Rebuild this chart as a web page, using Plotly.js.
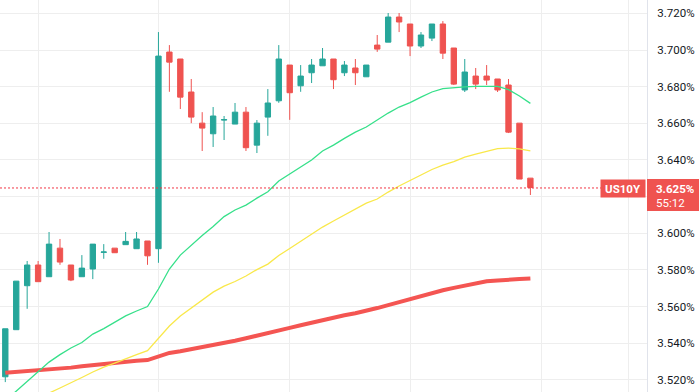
<!DOCTYPE html>
<html>
<head>
<meta charset="utf-8">
<script src="https://cdn.plot.ly/plotly-3.0.1.min.js"></script>
<style>html,body{margin:0;padding:0;background:#fff;}#chart{width:700px;height:392px;}</style>
</head>
<body>
<div id="chart"></div>
<script>
// Candle index (hourly bars)
const barIndex = [0,1,2,3,4,5,6,7,8,9,10,11,12,13,14,15,16,17,18,19,20,21,22,23,24,25,26,27,28,29,30,31,32,33,34,35,36,37,38,39,40,41,42,43,44,45,46,47,48];
const openVals  = [3.5217,3.5474,3.5714,3.5827,3.5763,3.5919,3.5827,3.5763,3.5805,3.5896,3.5919,3.5938,3.5916,3.5958,3.5916,3.6989,3.6951,3.6771,3.6601,3.6543,3.6618,3.6596,3.6661,3.6481,3.6634,3.6723,3.6918,3.6805,3.6876,3.6914,3.6951,3.6876,3.6902,3.6854,3.7027,3.7043,3.7180,3.7142,3.7022,3.7065,3.7142,3.7011,3.6782,3.6858,3.6858,3.6842,3.6809,3.6601,3.6301];
const highVals  = [3.5479,3.5739,3.5849,3.5849,3.6007,3.5969,3.5827,3.5881,3.5941,3.5941,3.5919,3.6007,3.6007,3.5958,3.7098,3.7027,3.6951,3.6842,3.6661,3.6689,3.6640,3.6711,3.6689,3.6618,3.6787,3.7027,3.6918,3.6918,3.6951,3.7011,3.6951,3.6940,3.6951,3.6918,3.7082,3.7202,3.7202,3.7142,3.7098,3.7142,3.7158,3.7011,3.6951,3.6902,3.6918,3.6842,3.6842,3.6601,3.6301];
const lowVals   = [3.5188,3.5474,3.5588,3.5736,3.5763,3.5828,3.5739,3.5763,3.5750,3.5861,3.5894,3.5938,3.5916,3.5828,3.5839,3.6772,3.6678,3.6601,3.6449,3.6471,3.6509,3.6596,3.6449,3.6438,3.6532,3.6712,3.6619,3.6772,3.6820,3.6914,3.6787,3.6858,3.6809,3.6854,3.6990,3.7043,3.7098,3.6967,3.7011,3.7049,3.6951,3.6809,3.6771,3.6787,3.6809,3.6771,3.6547,3.6296,3.6209];
const closeVals = [3.5479,3.5739,3.5827,3.5736,3.5941,3.5843,3.5745,3.5810,3.5941,3.5898,3.5894,3.5956,3.5969,3.5877,3.6967,3.6934,3.6743,3.6634,3.6574,3.6640,3.6620,3.6661,3.6467,3.6601,3.6711,3.6951,3.6767,3.6858,3.6918,3.6951,3.6838,3.6918,3.6876,3.6918,3.7005,3.7180,3.7153,3.7022,3.7082,3.7142,3.6983,3.6814,3.6880,3.6814,3.6836,3.6782,3.6552,3.6296,3.6250];

// Moving averages
const maFast = [3.5086,3.5139,3.5192,3.5243,3.5297,3.5338,3.5374,3.5404,3.5450,3.5480,3.5513,3.5549,3.5576,3.5600,3.5696,3.5805,3.5881,3.5936,3.5988,3.6037,3.6091,3.6127,3.6154,3.6192,3.6227,3.6285,3.6323,3.6361,3.6400,3.6449,3.6481,3.6518,3.6552,3.6580,3.6618,3.6656,3.6689,3.6713,3.6743,3.6771,3.6789,3.6795,3.6799,3.6802,3.6803,3.6802,3.6784,3.6749,3.6709];
const maMid  = [3.5011,3.5041,3.5069,3.5099,3.5128,3.5156,3.5183,3.5213,3.5243,3.5270,3.5292,3.5317,3.5338,3.5360,3.5428,3.5494,3.5549,3.5592,3.5636,3.5679,3.5712,3.5737,3.5767,3.5802,3.5832,3.5879,3.5917,3.5955,3.5993,3.6034,3.6067,3.6100,3.6132,3.6165,3.6187,3.6225,3.6258,3.6290,3.6318,3.6348,3.6372,3.6391,3.6416,3.6432,3.6449,3.6462,3.6465,3.6461,3.6450];
const maSlow = [3.5239,3.5243,3.5246,3.5250,3.5257,3.5262,3.5267,3.5275,3.5281,3.5289,3.5296,3.5300,3.5304,3.5308,3.5327,3.5347,3.5356,3.5367,3.5378,3.5388,3.5401,3.5414,3.5427,3.5440,3.5454,3.5469,3.5484,3.5498,3.5513,3.5528,3.5541,3.5553,3.5564,3.5576,3.5592,3.5608,3.5625,3.5641,3.5658,3.5674,3.5689,3.5702,3.5715,3.5727,3.5738,3.5742,3.5748,3.5751,3.5754];

const yTickVals = [3.52,3.54,3.56,3.58,3.60,3.62,3.64,3.66,3.68,3.70,3.72];
const yTickText = ["3.520%","3.540%","3.560%","3.580%","3.600%","","3.640%","3.660%","3.680%","3.700%","3.720%"];
const xGridVals = [3,14,26,37,49,57];

const symbolName = "US10Y";
const lastPrice = 3.625;
const lastPriceText = "3.625%";
const countdownText = "55:12";

const UP = '#26a69a', DOWN = '#ef5350';
const FONT = 'Roboto, "Liberation Sans", sans-serif';

const traces = [
  {type:'candlestick', x:barIndex, open:openVals, high:highVals, low:lowVals, close:closeVals,
   increasing:{line:{color:UP,width:1}, fillcolor:UP},
   decreasing:{line:{color:DOWN,width:1}, fillcolor:DOWN},
   whiskerwidth:0, hoverinfo:'skip', showlegend:false},
  {type:'scatter', mode:'lines', x:barIndex, y:maSlow, line:{color:'#f45552',width:4}, hoverinfo:'skip', showlegend:false},
  {type:'scatter', mode:'lines', x:barIndex, y:maMid, line:{color:'#f9e84a',width:1.3}, hoverinfo:'skip', showlegend:false},
  {type:'scatter', mode:'lines', x:barIndex, y:maFast, line:{color:'#36e08a',width:1.3}, hoverinfo:'skip', showlegend:false}
];

const layout = {
  width:700, height:392,
  margin:{l:0,r:53,t:0,b:0,pad:0},
  paper_bgcolor:'#ffffff', plot_bgcolor:'#ffffff',
  showlegend:false,
  font:{family:FONT, size:11.5, color:'#131722'},
  xaxis:{range:[-0.484,58.66], tickvals:xGridVals, showticklabels:false, ticks:'',
         showgrid:true, gridcolor:'#eeeeee', gridwidth:1, zeroline:false, showline:false,
         rangeslider:{visible:false}, fixedrange:true},
  yaxis:{side:'right', range:[3.5134,3.7273], tickvals:yTickVals, ticktext:yTickText,
         showgrid:true, gridcolor:'#eeeeee', gridwidth:1, zeroline:false,
         showline:true, linecolor:'#e0e3eb', linewidth:1, ticks:'', ticklabelstandoff:7,
         tickfont:{size:11.5, color:'#131722'}, fixedrange:true},
  shapes:[
    {type:'line', xref:'paper', x0:0, x1:0.93, yref:'y', ysizemode:'pixel', yanchor:lastPrice, y0:-0.5, y1:-0.5,
     line:{color:'#f23645', width:1, dash:'2px,2px'}},
    {type:'rect', xref:'paper', x0:1.0, x1:1.0804, yref:'y', ysizemode:'pixel', yanchor:lastPrice, y0:-23.5, y1:8.5,
     fillcolor:DOWN, line:{width:0}}
  ],
  annotations:[
    {xref:'paper', x:0.9629, yref:'y', y:lastPrice, yshift:-1, xanchor:'center', yanchor:'middle',
     text:'<b>'+symbolName+'</b>', showarrow:false, bgcolor:DOWN, borderpad:0, width:44, height:17,
     font:{color:'#ffffff', size:11.5, family:FONT}},
    {xref:'paper', x:1.0124, yref:'y', y:lastPrice, yshift:-2, xanchor:'left', yanchor:'middle',
     text:'<b>'+lastPriceText+'</b>', showarrow:false, borderpad:0, height:12,
     font:{color:'#ffffff', size:11.5, family:FONT}},
    {xref:'paper', x:1.0124, yref:'y', y:lastPrice, yshift:-15.5, xanchor:'left', yanchor:'middle',
     text:countdownText, showarrow:false, borderpad:0, height:12,
     font:{color:'#ffffff', size:11.5, family:FONT}}
  ]
};

Plotly.newPlot('chart', traces, layout, {displayModeBar:false, staticPlot:true});
</script>
</body>
</html>
